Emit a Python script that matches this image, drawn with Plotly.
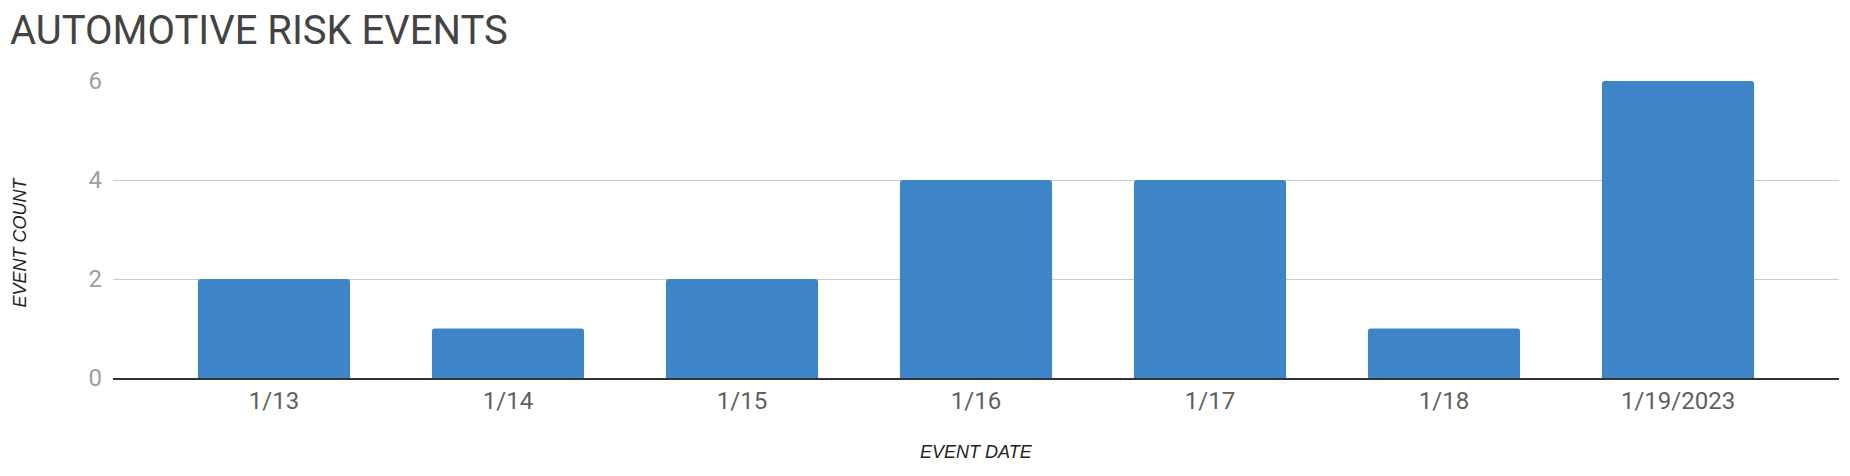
import plotly.graph_objects as go

dates = ["1/13", "1/14", "1/15", "1/16", "1/17", "1/18", "1/19/2023"]
event_counts = [2, 1, 2, 4, 4, 1, 6]
y_ticks = [0, 2, 4, 6]

# The page body adds an 8px offset, so the figure is sized/positioned to compensate.
W, H = 1842, 468
L, R, T, B = 105, 11, 73, 98
PW, PH = W - L - R, H - T - B


def px_x(x):
    return (x - L) / PW


def px_y(y):
    return 1 - (y - T) / PH


fig = go.Figure(
    go.Bar(
        x=dates,
        y=event_counts,
        marker=dict(color="#3d85c6", cornerradius=3, line=dict(width=0)),
        width=0.65,
        hoverinfo="x+y",
    )
)

axis_title_font = dict(family="Liberation Sans", size=18, color="#222222", style="italic")

fig.update_layout(
    width=W,
    height=H,
    margin=dict(l=L, r=R, t=T, b=B, autoexpand=False),
    paper_bgcolor="white",
    plot_bgcolor="white",
    showlegend=False,
    title=dict(
        text="AUTOMOTIVE RISK EVENTS",
        font=dict(family="Roboto", size=40, color="#434343"),
        x=2 / W,
        xanchor="left",
        xref="container",
        y=1 - 22 / H,
        yanchor="middle",
        yref="container",
    ),
    xaxis=dict(
        type="category",
        range=[-0.688, 6.688],
        showgrid=False,
        showline=True,
        linecolor="#333333",
        linewidth=2,
        ticks="",
        automargin=False,
        tickfont=dict(family="Roboto", size=24, color="#5f5f5f"),
    ),
    yaxis=dict(
        range=[0, 6],
        tickvals=y_ticks,
        showgrid=True,
        gridcolor="#cccccc",
        gridwidth=1.3,
        zeroline=False,
        ticks="",
        automargin=False,
        ticklabelstandoff=10,
        tickfont=dict(family="Roboto", size=24, color="#9e9e9e"),
    ),
    annotations=[
        dict(
            text="EVENT COUNT",
            textangle=-90,
            xref="paper",
            yref="paper",
            x=px_x(11.5),
            y=px_y(234),
            xanchor="center",
            yanchor="middle",
            showarrow=False,
            font=axis_title_font,
        ),
        dict(
            text="EVENT DATE",
            xref="paper",
            yref="paper",
            x=0.5,
            y=px_y(444),
            xanchor="center",
            yanchor="middle",
            showarrow=False,
            font=axis_title_font,
        ),
    ],
)

fig.write_html("out.html")
